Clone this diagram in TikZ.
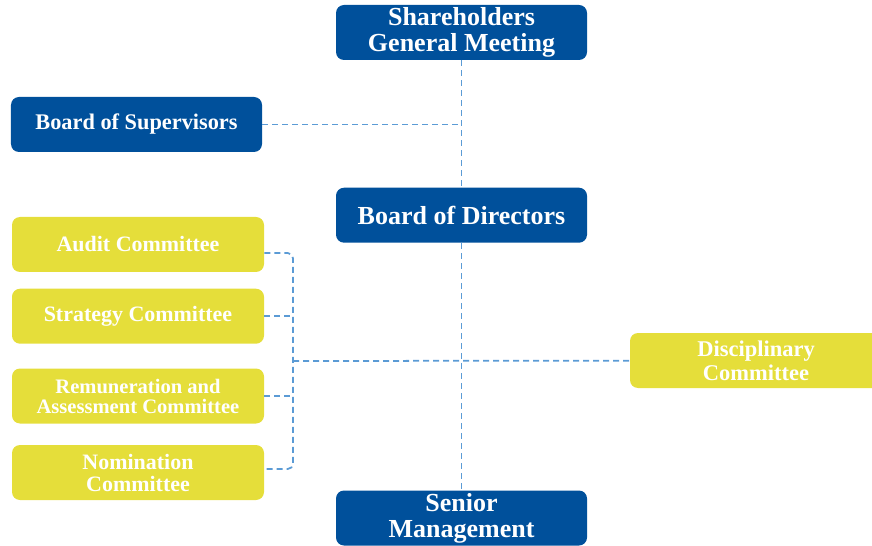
\documentclass[tikz,border=0pt]{standalone}
\usepackage{fontspec}
\setmainfont{Liberation Serif}
\usetikzlibrary{positioning}

\definecolor{boardblue}{RGB}{0,80,155}
\definecolor{cttyellow}{RGB}{229,222,58}
\definecolor{linkblue}{RGB}{91,155,213}

\begin{document}
\begin{tikzpicture}[node distance=0.8cm,
	every node/.style={text=white, align=center, inner sep=0.5pt},
	bluebox/.style={rectangle, rounded corners=0.16cm, fill=boardblue, minimum width=5.02cm, minimum height=1.1cm, font=\fontsize{14.8}{14.8}\selectfont\bfseries},
	ctt/.style={rectangle, rounded corners=0.16cm, fill=cttyellow, minimum width=5.04cm, minimum height=1.1cm, font=\fontsize{12.5}{12.5}\selectfont\bfseries},
	link/.style={draw=linkblue, line width=1pt, dash pattern=on 0.12cm off 0.08cm}]
				\useasboundingbox (0,0) rectangle (17.44,-10.92);
				
				% main line
				\node[bluebox] (sgm) at (9.23,-0.65) {Shareholders\\General Meeting};
				\node[bluebox, below=2.54cm of sgm] (bod) {Board of Directors};
				\node[bluebox] (sm) at (9.23,-10.36) {Senior\\Management};
				\node[bluebox, font=\fontsize{12.7}{12.7}\selectfont\bfseries] (bos) at (2.73,-2.49) {Board of Supervisors};
				
				% committees
				\node[ctt] (audit) at (2.76,-4.89) {Audit Committee};
				\node[ctt, below=0.32cm of audit] (strat) {Strategy Committee};
				\node[ctt, font=\fontsize{11.7}{11.4}\selectfont\bfseries] (remu) at (2.76,-7.92) {Remuneration and\\Assessment Committee};
				\node[ctt] (nomi) at (2.76,-9.45) {Nomination\\Committee};
				\node[ctt, font=\fontsize{12.8}{13.6}\selectfont\bfseries] (disc) at (15.12,-7.21) {Disciplinary\\Committee};
				
				\coordinate (brk) at (5.86,-7.22);
				
				\draw[link] (sgm) -- (bod);
				\draw[link] (bod) -- (sm);
				\draw[link] (bos) -- (bos -| sgm);
				\draw[link, rounded corners=3pt] ([yshift=-0.17cm]audit.east) -| (brk) |- ([yshift=0.07cm]nomi.east);
				\draw[link] (strat.east) -- (strat.east -| brk);
				\draw[link] (remu.east) -- (remu.east -| brk);
				\draw[link] (brk) -- (disc);
			\end{tikzpicture}
\end{document}
